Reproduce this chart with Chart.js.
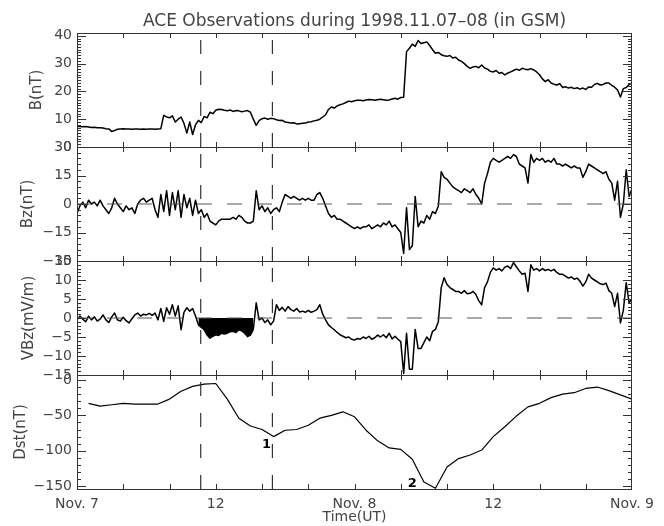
<!DOCTYPE html>
<html lang="en">
<head>
<meta charset="UTF-8">
<title>ACE Observations 1998.11.07-08</title>
<script src="https://cdn.jsdelivr.net/npm/chart.js"></script>
<style>
  body { margin: 0; background: #fff; }
  #wrap { width: 664px; height: 526px; }
</style>
</head>
<body>
<div id="wrap"><canvas id="aceChart" width="664" height="526"></canvas></div>
<script>
// hours since 00 UT Nov 7 1998

// |B| every 15 min (nT)
const bStep = 0.25;
const bValues = [
  7.5, 7.4, 7.3, 7.4,     7.2, 7.0, 7.1, 6.9,     6.9, 6.8, 6.6, 6.5,     5.6, 5.9, 6.4, 6.5,
  6.6, 6.5, 6.5, 6.4,     6.5, 6.5, 6.4, 6.5,     6.4, 6.5, 6.5, 6.4,     6.5, 6.6, 11.4, 10.8,
  10.5, 11.2, 9.0, 10.0,  10.8, 8.5, 5.0, 9.0,    4.5, 8.0, 9.6, 8.8,     11.0, 10.5, 12.5, 12.0,
  13.2, 13.6, 13.5, 13.2, 13.0, 13.3, 12.8, 13.1, 13.0, 12.7, 12.9, 13.1, 12.5, 10.0, 7.8, 9.5,
  10.2, 10.4, 10.0, 10.3, 10.2, 9.8, 9.5, 9.6,    9.0, 8.8, 8.6, 8.7,     8.3, 8.4, 8.5, 8.6,
  9.0, 9.1, 9.4, 9.6,     10.0, 10.8, 11.6, 13.5, 14.4, 14.0, 14.8, 15.2, 15.5, 16.0, 16.5, 16.3,
  16.6, 16.8, 16.8, 16.6, 16.9, 17.1, 17.0, 16.8, 17.0, 17.2, 17.0, 16.8, 16.9, 17.3, 17.5, 17.2,
  17.8, 17.9, 34.3, 35.5, 37.0, 36.2, 38.3, 37.2, 37.5, 37.8, 36.5, 35.0, 33.7, 34.0, 33.2, 32.8,
  32.6, 32.9, 32.0, 32.3, 31.3, 30.8, 30.0, 29.0, 28.3, 28.8, 29.0, 28.5, 29.5, 28.4, 28.0, 27.2,
  27.0, 27.5, 26.5, 26.8, 25.9, 26.6, 27.0, 27.5, 28.0, 27.6, 28.3, 28.0, 27.8, 28.2, 27.7, 27.0,
  26.0, 24.5, 23.5, 24.2, 23.0, 22.6, 22.3, 22.8, 21.4, 21.7, 21.2, 21.5, 21.0, 21.3, 20.8, 21.2,
  20.7, 21.6, 21.5, 22.5, 22.9, 22.3, 22.5, 23.0, 23.0, 22.2, 21.5, 20.5, 18.0, 21.0, 21.4, 22.5,
  23.0];

// Bz (GSM) every 15 min (nT)
const bzStep = 0.25;
const bzValues = [
  -5, -1, 1, -2,   2, 0, 1, -1,   2, -1, -3, -5,   -2, 3, 0, -2,
  -4, -1, -3, -2,  -5, 0, 2, 3,   1, 2, 3, -3,     -7, 5, -4, 7,
  -6, 6, -3, 7,    -7, 5, -2, 3,  -6, 2, -5, -3,   -7, -5, -9, -10,
  -11, -9, -8, -8, -8, -8, -7, -8, -6, -7, -9, -10, -10, -9, 7, -3,
  -1, -4, -2, -5,  -3, -2, -4, 1, 5, 4, 3, 4,      3, 2, 3, 2,
  3, 2, 2, 5,      6, 3, -1, -5,  -7, -6, -8, -8,  -9, -10, -11, -12,
  -13, -12, -13, -12, -12, -11, -13, -12, -11, -12, -10, -11, -9, -12, -11, -13,
  -15, -26, -2, -24, -22, 4, -12, -9, -10, -6, -8, -4, -5, -1, 17, 14,
  13, 11, 9, 8,    7, 6, 8, 7,    6, 8, 5, 3,      0, 11, 16, 22,
  24, 23, 22, 23,  24, 25, 24, 26, 25, 21, 20, 19,  11, 26, 22, 24,
  23, 24, 22, 23,  22, 24, 21, 21, 20, 21, 20, 19,  20, 19, 19, 14,
  17, 21, 20, 19,  18, 17, 16, 17, 13, 11, 2, 12,   -7, 0, 18, 4,
  8];

// VBz every 15 min (mV/m)
const vbzStep = 0.25;
const vbzValues = [
  -0.5, 0.5, -0.3, -1,   0.5, -0.5, 0.3, -0.8,  -0.3, 0.8, -0.5, -1.2,  0.3, 1.3, -0.5, -0.8,
  0.2, -0.7, -1.3, -0.2, 0.8, 1.3, 0.5, 1.0,    0.8, 1.2, 0.7, 1.3,     -0.5, 2.5, -0.9, 2.7,
  1.0, 3.5, 0.5, 3.2,    -3.1, 1.5, 2.7, 1.8,   2.5, 0.5, -1.8, -2.5,   -3.1, -4.5, -5.3, -4.8,
  -4.4, -4.6, -4.0, -4.2, -4.0, -3.6, -3.5, -3.8, -3.1, -3.4, -4.0, -4.9, -4.5, -3.0, 4.0, -0.5,
  0, -1.2, -0.5, -1.8,   -0.8, 3.5, 2.0, 2.8,   1.8, 3.0, 2.2, 1.8,     2.5, 1.6, 1.8, 1.5,
  2.0, 1.5, 1.8, 2.2,    3.5, 1.0, -0.5, -1.8,  -2.5, -3.1, -3.8, -4.4, -4.8, -5.2, -5.0, -5.6,
  -5.8, -5.4, -5.6, -5.0, -5.4, -4.8, -5.6, -5.2, -4.5, -5.0, -4.4, -5.2, -4.0, -5.5, -4.8, -5.6,
  -6.2, -14.6, -4.0, -13.5, -13.5, -3.0, -8.0, -8.0, -6.5, -5.0, -6.0, -3.5, -3.0, -1.0, 8.0, 10.6,
  8.8, 8.0, 7.5, 7.0,    7.0, 6.5, 7.2, 6.4,    6.5, 7.0, 6.2, 4.5,     3.5, 8.0, 9.5, 12.0,
  13.2, 12.6, 13.0, 12.4, 13.4, 13.7, 13.0, 14.6, 13.5, 12.4, 11.5, 11.8, 7.0, 14.0, 12.6, 13.0,
  12.4, 13.0, 12.5, 12.8, 12.4, 12.8, 12.0, 11.5, 11.5, 11.0, 10.5, 10.8, 10.2, 10.5, 9.7, 8.4,
  9.5, 11.5, 10.5, 10.0, 9.5, 9.0, 8.8, 9.2,    7.2, 6.5, 3.0, 6.5,     -1.3, 2.0, 9.3, 4.0,
  5.0];

// hourly Dst (nT)
const dstHours = [1, 2, 3, 4, 5, 6, 7, 8, 9, 10, 11, 12, 13, 14, 15, 16, 17, 18, 19, 20, 21, 22, 23, 24,
  25, 26, 27, 28, 29, 30, 31, 32, 33, 34, 35, 36, 37, 38, 39, 40, 41, 42, 43, 44, 45, 46, 47, 48];
const dstValues = [-33, -37, -35, -33, -34, -34, -34, -27, -16, -9, -6, -5,
  -27, -54, -65, -70, -80, -71, -70, -64, -54, -50, -45, -52,
  -71, -86, -96, -98, -112, -144, -153, -123, -111, -106, -99, -80,
  -66, -51, -38, -33, -25, -20, -18, -12, -10, -15, -21, -27];

// dashed markers, shaded main phase, Dst minima labels
const eventHours = [10.7, 16.9];
const shadeFrom = 10.5;
const shadeTo = 15.25;
const dipLabels = ['1', '2'];
const dipHours = [16.4, 29.0];
const dipValues = [-91, -146];

// axes
const timeTicks = [0, 12, 24, 36, 48];
const timeLabels = ['Nov. 7', '12', 'Nov. 8', '12', 'Nov. 9'];
const bTicks = [0, 10, 20, 30, 40];
const bzTicks = [-30, -15, 0, 15, 30];
const vbzTicks = [-15, -10, -5, 0, 5, 10, 15];
const dstTicks = [-150, -100, -50, 0];

// top to bottom
const panels = [
  { id: 'yB', min: 0, max: 41, ticks: bTicks, minor: 1, title: 'B(nT)', pad: 28 },
  { id: 'yBz', min: -30, max: 30, ticks: bzTicks, minor: 3, title: 'Bz(nT)', pad: 19 },
  { id: 'yVBz', min: -15, max: 15, ticks: vbzTicks, minor: 1, title: 'VBz(mV/m)', pad: 20 },
  { id: 'yDst', min: -154, max: 7, ticks: dstTicks, minor: 10, title: 'Dst(nT)', pad: 12 }
];

const font = 'DejaVu Sans';
const textColor = '#444';

const series = (values, step) => values.map((v, i) => ({ x: i * step, y: v }));
const fmt = v => v < 0 ? '\u2212' + Math.abs(v) : String(v);

const traceStyle = { borderColor: '#000', borderWidth: 1.5, pointRadius: 0, fill: false, tension: 0, borderJoinStyle: 'round' };

const datasets = [];

// dashed event lines in every panel
panels.forEach(p => {
  eventHours.forEach(h => {
    datasets.push({ data: [{ x: h, y: p.min }, { x: h, y: p.max }], yAxisID: p.id,
      borderColor: '#333', borderWidth: 1.2, borderDash: [14, 17], pointRadius: 0, fill: false });
  });
});

// zero lines
['yBz', 'yVBz'].forEach(id => {
  datasets.push({ data: [{ x: 0, y: 0 }, { x: 48, y: 0 }], yAxisID: id,
    borderColor: '#555', borderWidth: 1, borderDash: [15, 15], pointRadius: 0, fill: false });
});

const vbzPoints = series(vbzValues, vbzStep);
datasets.push({ data: vbzPoints.filter(p => p.x >= shadeFrom && p.x <= shadeTo), yAxisID: 'yVBz',
  borderWidth: 0, pointRadius: 0, backgroundColor: '#000', fill: 'origin' });

datasets.push(Object.assign({ data: series(bValues, bStep), yAxisID: 'yB' }, traceStyle));
datasets.push(Object.assign({ data: series(bzValues, bzStep), yAxisID: 'yBz' }, traceStyle));
datasets.push(Object.assign({ data: vbzPoints, yAxisID: 'yVBz' }, traceStyle));
datasets.push(Object.assign({ data: dstHours.map((h, i) => ({ x: h, y: dstValues[i] })), yAxisID: 'yDst' }, traceStyle, { borderWidth: 1.2 }));

const scales = {
  x: {
    type: 'linear', min: 0, max: 48,
    grid: { display: false, drawTicks: false }, border: { display: false },
    afterBuildTicks: s => { s.ticks = timeTicks.map(v => ({ value: v })); },
    afterFit: s => { s.height = 37; },
    ticks: { autoSkip: false, maxRotation: 0, padding: 7, color: textColor, font: { family: font, size: 14 },
      callback: v => timeLabels[timeTicks.indexOf(v)] },
    title: { display: true, text: 'Time(UT)', color: textColor, font: { family: font, size: 14 }, padding: { top: 0, bottom: 0 } }
  }
};
// stacked left axes are laid out bottom-up, so add them in reverse
panels.slice().reverse().forEach(p => {
  scales[p.id] = {
    type: 'linear', position: 'left', stack: 'panels', stackWeight: 1,
    min: p.min, max: p.max,
    grid: { display: false, drawTicks: false }, border: { display: false },
    afterBuildTicks: s => { s.ticks = p.ticks.map(v => ({ value: v })); },
    afterFit: s => { s.width = 77; },
    ticks: { autoSkip: false, padding: 5, color: textColor, font: { family: font, size: 14 }, callback: fmt },
    title: { display: true, text: p.title, color: textColor, font: { family: font, size: 15 }, padding: { top: p.pad, bottom: 0 } }
  };
});

// IDL-style frame with inward ticks, plus the Dst minima labels
const frameTicks = {
  id: 'frameTicks',
  afterDatasetsDraw(chart) {
    const ctx = chart.ctx;
    const area = chart.chartArea;
    const xs = chart.scales.x;
    ctx.save();
    ctx.strokeStyle = '#333';
    ctx.lineWidth = 1;
    panels.forEach(p => {
      const s = chart.scales[p.id];
      ctx.strokeRect(area.left + 0.5, Math.round(s.top) + 0.5, area.right - area.left - 1, Math.round(s.bottom - s.top));
      ctx.beginPath();
      const n = Math.round((p.max - p.min) / p.minor) + 1;
      const first = Math.ceil(p.min / p.minor) * p.minor;
      for (let k = 0; k < n; k++) {
        const v = first + k * p.minor;
        if (v > p.max) break;
        const y = Math.round(s.getPixelForValue(v)) + 0.5;
        const len = p.ticks.some(t => Math.abs(t - v) < 1e-6) ? 9 : 4;
        ctx.moveTo(area.left, y); ctx.lineTo(area.left + len, y);
        ctx.moveTo(area.right, y); ctx.lineTo(area.right - len, y);
      }
      for (let h = 4; h < 48; h += 4) {
        const x = Math.round(xs.getPixelForValue(h)) + 0.5;
        ctx.moveTo(x, s.top); ctx.lineTo(x, s.top + 5);
        ctx.moveTo(x, s.bottom); ctx.lineTo(x, s.bottom - 5);
      }
      ctx.stroke();
    });
    const ys = chart.scales.yDst;
    ctx.fillStyle = '#000';
    ctx.font = 'bold 13px "DejaVu Sans"';
    ctx.textAlign = 'center';
    ctx.textBaseline = 'middle';
    dipLabels.forEach((t, i) => {
      ctx.fillText(t, xs.getPixelForValue(dipHours[i]), ys.getPixelForValue(dipValues[i]));
    });
    ctx.restore();
  }
};

new Chart(document.getElementById('aceChart'), {
  type: 'line',
  data: { datasets },
  options: {
    responsive: false,
    animation: false,
    layout: { padding: { left: 0, right: 32, top: 0, bottom: 0 } },
    scales,
    plugins: {
      legend: { display: false },
      tooltip: { enabled: false },
      title: { display: true, fullSize: false, text: 'ACE Observations during 1998.11.07\u201308 (in GSM)', color: textColor,
        font: { family: font, size: 17, weight: 'normal' }, padding: { top: 11, bottom: 1.6 } }
    }
  },
  plugins: [frameTicks]
});
</script>
</body>
</html>
